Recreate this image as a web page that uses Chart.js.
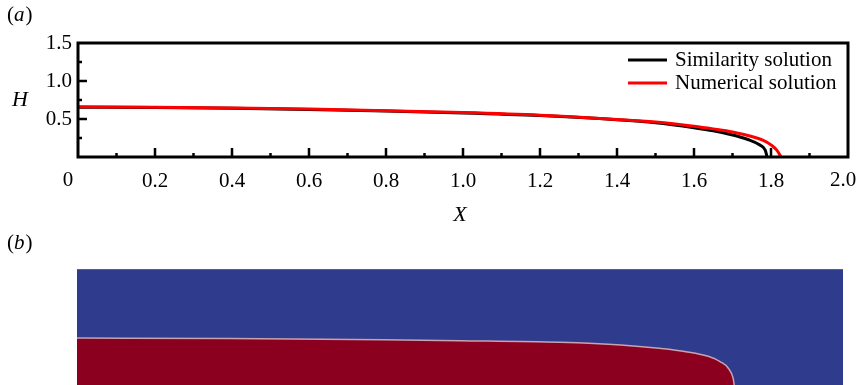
<!DOCTYPE html>
<html>
<head>
<meta charset="utf-8">
<script src="https://cdn.jsdelivr.net/npm/chart.js@4.4.0/dist/chart.umd.min.js"></script>
<style>
  body { margin: 0; background: #fff; }
  #wrapA { position: absolute; left: 0; top: 0; width: 859px; height: 260px; }
  #wrapB { position: absolute; left: 0; top: 260px; width: 859px; height: 125px; }
</style>
</head>
<body>
<div id="wrapA"><canvas id="chartA" width="859" height="260"></canvas></div>
<div id="wrapB"><canvas id="chartB" width="859" height="125"></canvas></div>
<script>
// panel (a) : interface height H vs X
var simX = [0, 0.2, 0.4, 0.6, 0.8, 1.0, 1.2, 1.4, 1.5, 1.6, 1.65, 1.7, 1.74, 1.77, 1.785, 1.79];
var simH = [0.655, 0.65, 0.64, 0.625, 0.605, 0.58, 0.545, 0.49, 0.45, 0.385, 0.345, 0.29, 0.23, 0.16, 0.09, 0.0];
var numX = [0, 0.2, 0.4, 0.6, 0.8, 1.0, 1.2, 1.4, 1.5, 1.6, 1.65, 1.7, 1.75, 1.78, 1.80, 1.815, 1.826];
var numH = [0.66, 0.655, 0.645, 0.63, 0.61, 0.585, 0.55, 0.495, 0.46, 0.405, 0.37, 0.33, 0.27, 0.22, 0.16, 0.09, 0.0];
var seriesNames = ["Similarity solution", "Numerical solution"];

var xMajor = [0.2, 0.4, 0.6, 0.8, 1.0, 1.2, 1.4, 1.6, 1.8];
var xMinor = [0.1, 0.3, 0.5, 0.7, 0.9, 1.1, 1.3, 1.5, 1.7, 1.9];
var yMajor = [0.5, 1.0];
var yMinor = [0.25, 0.75, 1.25];

// panel (b) : dense fluid interface (snapshot)
var fieldX = [0, 0.4, 0.8, 1.0, 1.26, 1.42, 1.52, 1.59, 1.65, 1.68, 1.70, 1.713, 1.716];
var fieldY = [0.405, 0.4, 0.39, 0.382, 0.368, 0.345, 0.316, 0.287, 0.245, 0.2, 0.147, 0.06, 0.0];

var serif = "'Liberation Serif', 'DejaVu Serif', serif";

function pts(xs, ys) {
    return xs.map(function (x, i) { return { x: x, y: ys[i] }; });
}

function panelLetter(ctx, letter, x, y) {
    ctx.font = "21px " + serif;
    ctx.fillText('(', x, y);
    x += ctx.measureText('(').width;
    ctx.font = "italic 21px " + serif;
    ctx.fillText(letter, x, y);
    x += ctx.measureText(letter).width + 1;
    ctx.font = "21px " + serif;
    ctx.fillText(')', x, y);
}

var frameA = {
    id: 'frameA',
    afterDraw: function (chart) {
        var ctx = chart.ctx, a = chart.chartArea;
        var xs = chart.scales.x, ys = chart.scales.y;
        ctx.save();
        ctx.strokeStyle = '#000';
        ctx.lineWidth = 2.5;
        ctx.beginPath();
        xMajor.forEach(function (v) { var p = xs.getPixelForValue(v); ctx.moveTo(p, a.bottom); ctx.lineTo(p, a.bottom - 9); });
        xMinor.forEach(function (v) { var p = xs.getPixelForValue(v); ctx.moveTo(p, a.bottom); ctx.lineTo(p, a.bottom - 4); });
        yMajor.forEach(function (v) { var p = ys.getPixelForValue(v); ctx.moveTo(a.left, p); ctx.lineTo(a.left + 9, p); });
        yMinor.forEach(function (v) { var p = ys.getPixelForValue(v); ctx.moveTo(a.left, p); ctx.lineTo(a.left + 4, p); });
        ctx.stroke();
        ctx.lineWidth = 3;
        ctx.strokeRect(a.left, a.top, a.right - a.left, a.bottom - a.top);

        // end labels, nudged inward as in the figure
        ctx.fillStyle = '#000';
        ctx.font = "21px " + serif;
        ctx.textAlign = 'center';
        ctx.textBaseline = 'middle';
        ctx.fillText('0', xs.getPixelForValue(0) - 10, 180);
        ctx.fillText('2.0', xs.getPixelForValue(2) - 5, 180);

        // legend
        ctx.textAlign = 'left';
        chart.data.datasets.forEach(function (ds, i) {
            var yy = 60 + i * 23;
            ctx.strokeStyle = ds.borderColor;
            ctx.lineWidth = 3;
            ctx.beginPath();
            ctx.moveTo(628, yy); ctx.lineTo(667, yy);
            ctx.stroke();
            ctx.fillText(ds.label, 675, yy);
        });

        // axis titles and panel letters
        ctx.font = "italic 22px " + serif;
        ctx.textAlign = 'center';
        ctx.fillText('H', 20, 100);
        ctx.fillText('X', 460, 215);
        ctx.textAlign = 'left';
        panelLetter(ctx, 'a', 7, 15);
        panelLetter(ctx, 'b', 7, 243);
        ctx.restore();
    }
};

new Chart(document.getElementById('chartA').getContext('2d'), {
    type: 'line',
    data: {
        datasets: [
            { label: seriesNames[0], data: pts(simX, simH), borderColor: '#000000', borderWidth: 3, pointRadius: 0, cubicInterpolationMode: 'monotone', order: 1 },
            { label: seriesNames[1], data: pts(numX, numH), borderColor: '#ff0000', borderWidth: 3, pointRadius: 0, cubicInterpolationMode: 'monotone', order: 0 }
        ]
    },
    options: {
        responsive: false,
        animation: false,
        layout: { padding: { top: 43, right: 11, left: 0, bottom: 0 } },
        plugins: { legend: { display: false }, tooltip: { enabled: false } },
        scales: {
            x: {
                type: 'linear', min: 0, max: 2,
                grid: { display: false, drawTicks: false },
                border: { display: false },
                afterFit: function (s) { s.height = 103; s.paddingLeft = 0; s.paddingRight = 0; },
                ticks: {
                    stepSize: 0.2, padding: 12, color: '#000',
                    font: { family: serif, size: 21 },
                    callback: function (v) { return (v === 0 || v === 2) ? '' : v.toFixed(1); }
                }
            },
            y: {
                min: 0, max: 1.5,
                grid: { display: false, drawTicks: false },
                border: { display: false },
                afterFit: function (s) { s.width = 78; s.paddingTop = 0; s.paddingBottom = 0; },
                ticks: {
                    stepSize: 0.5, padding: 6, color: '#000',
                    font: { family: serif, size: 21 },
                    callback: function (v) { return v === 0 ? '' : v.toFixed(1); }
                }
            }
        }
    },
    plugins: [frameA]
});

var fieldBg = {
    id: 'fieldBg',
    beforeDatasetsDraw: function (chart) {
        var ctx = chart.ctx, a = chart.chartArea;
        ctx.save();
        ctx.fillStyle = '#2f3c8d';
        ctx.fillRect(a.left, a.top, a.right - a.left, a.bottom - a.top);
        ctx.fillStyle = '#55608f';
        ctx.fillRect(a.left, a.top, a.right - a.left, 1);
        ctx.restore();
    }
};

new Chart(document.getElementById('chartB').getContext('2d'), {
    type: 'line',
    data: {
        datasets: [
            { label: 'dense fluid', data: pts(fieldX, fieldY), borderColor: '#c9a3ad', borderWidth: 1.5,
              backgroundColor: '#8b001f', fill: 'origin', pointRadius: 0, cubicInterpolationMode: 'monotone' }
        ]
    },
    options: {
        responsive: false,
        animation: false,
        layout: { padding: { top: 9, right: 16, left: 77, bottom: 0 } },
        plugins: { legend: { display: false }, tooltip: { enabled: false } },
        scales: {
            x: { type: 'linear', min: 0, max: 2, display: false },
            y: { min: 0, max: 1, display: false }
        }
    },
    plugins: [fieldBg]
});
</script>
</body>
</html>
